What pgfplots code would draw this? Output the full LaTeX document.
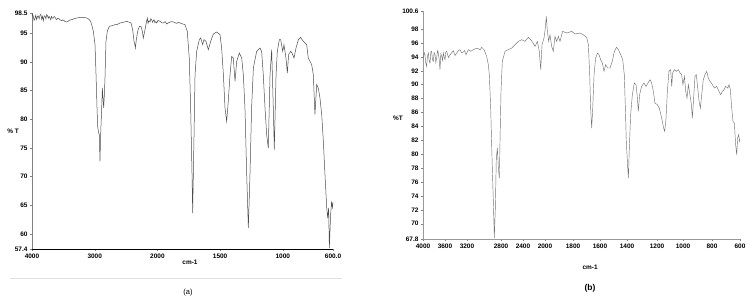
\documentclass[border=0pt]{standalone}
\usepackage{fontspec}
\setmainfont{Liberation Sans}
\usepackage{pgfplots}
\pgfplotsset{compat=1.18}
\usepackage{pgfplotstable}

\pgfplotstableread{
w t
4000 97.9
3990 98.3
3979 97.92
3967 97.2
3955 97.5
3940 98.1
3926 97.34
3913 97.9
3900 98.0
3886 97.5
3872 98.09
3858 98.3
3845 97.4
3832 97.9
3819 97.16
3805 98.0
3790 97.9
3778 97.5
3766 98.21
3752 98.0
3740 97.6
3726 97.9
3713 97.63
3700 97.3
3690 97.9
3675 97.6
3660 97.63
3648 97.9
3635 97.8
3620 97.5
3607 97.34
3590 97.6
3570 97.5
3550 97.3
3527 97.16
3510 97.3
3490 97.2
3470 97.0
3447 96.93
3430 97.0
3410 97.2
3390 97.3
3367 97.34
3350 97.4
3330 97.5
3310 97.55
3288 97.63
3270 97.65
3250 97.7
3230 97.75
3208 97.75
3190 97.72
3170 97.7
3150 97.68
3128 97.63
3105 97.5
3086 97.34
3065 97.0
3048 96.47
3022 95.31
2995 92.98
2979 87.76
2963 81.96
2953 78.76
2937 77.6
2926 77.31
2916 72.67
2905 77.31
2889 81.96
2878 85.44
2868 83.7
2857 81.96
2846 84.28
2836 87.18
2820 93.57
2799 95.31
2767 96.18
2720 96.3
2676 96.47
2640 96.5
2597 96.76
2540 96.9
2490 97.05
2450 96.9
2421 96.76
2395 95.6
2373 93.57
2360 93.0
2352 92.4
2336 93.86
2315 95.31
2288 96.18
2262 96.18
2240 95.3
2225 94.15
2198 95.6
2171 97.16
2160 97.6
2150 96.7
2135 97.2
2118 96.93
2105 97.5
2090 97.3
2078 96.9
2065 97.16
2052 97.3
2040 96.8
2025 97.0
2012 96.76
1995 97.2
1979 97.05
1965 96.8
1950 96.8
1938 97.0
1926 96.58
1912 96.8
1900 96.9
1887 97.0
1873 96.93
1860 96.8
1845 96.7
1832 96.9
1820 96.76
1800 96.6
1780 96.47
1762 95.31
1746 90.66
1735 81.96
1724 70.35
1719 63.67
1708 77.31
1700 87.76
1687 91.82
1666 93.86
1655 94.15
1639 92.98
1629 93.86
1613 93.57
1594 92.11
1575 93.57
1554 94.84
1528 95.19
1501 94.73
1488 92.40
1474 87.76
1461 81.96
1448 79.63
1435 83.12
1421 87.76
1408 90.95
1395 90.66
1381 86.6
1368 90.08
1347 91.53
1328 90.66
1315 87.76
1302 81.96
1288 70.35
1275 61.06
1262 70.35
1249 81.96
1235 88.92
1209 91.82
1182 92.40
1169 91.82
1156 87.76
1142 81.96
1129 77.31
1116 74.99
1102 87.76
1089 92.11
1076 81.96
1068 74.70
1054 87.76
1044 91.82
1028 93.86
1017 93.86
1001 91.82
991 92.98
975 90.66
964 88.05
954 91.25
938 91.82
927 91.53
911 90.66
895 92.40
876 93.86
858 94.26
837 93.57
810 92.98
797 90.66
770 89.5
757 87.76
744 80.79
730 86.02
717 85.44
704 83.7
690 80.79
677 76.15
664 70.35
650 64.54
642 62.8
635 64.54
629 57.57
619 63.38
611 65.7
605 64.6
600 65.5
}\spectrumA

\pgfplotstableread{
w t
4000 93.9
3995 93.84
3982 94.6
3970 94.3
3958 93.1
3945 92.64
3932 94.2
3919 94.55
3906 93.4
3894 93.12
3881 94.7
3869 94.8
3856 93.5
3844 93.36
3831 94.6
3818 94.3
3806 93.2
3793 93.84
3780 94.9
3768 94.55
3755 93.6
3743 92.16
3730 94.4
3717 94.08
3705 93.5
3692 94.55
3680 94.0
3667 93.6
3655 94.7
3642 94.8
3615 93.9
3591 94.3
3565 94.6
3541 94.89
3515 94.2
3490 94.55
3465 94.9
3440 95.04
3415 94.6
3389 94.7
3370 94.9
3349 94.3
3314 95.04
3275 94.8
3238 95.04
3200 95.2
3162 95.18
3135 95.0
3112 95.37
3076 95.04
3036 94.08
3011 92.88
2996 91.44
2975 86.64
2955 79.45
2935 73.21
2920 67.94
2905 72.25
2890 79.45
2874 80.89
2859 78.01
2844 76.57
2834 81.85
2819 89.04
2799 93.36
2758 94.8
2708 95.04
2657 95.27
2607 95.75
2557 96.23
2506 96.47
2456 96.23
2405 96.81
2355 96.33
2304 95.51
2269 96.23
2239 94.8
2218 92.16
2198 95.75
2168 96.71
2148 98.15
2133 99.83
2117 97.67
2097 96.23
2077 97.19
2052 95.51
2027 94.8
2001 96.95
1988 96.23
1975 96.95
1963 96.23
1943 97.67
1912 97.43
1874 97.67
1849 97.29
1811 97.43
1786 97.19
1761 96.81
1748 95.75
1738 91.44
1731 86.64
1723 83.76
1715 86.64
1705 91.44
1693 93.84
1678 94.55
1667 94.3
1655 93.6
1642 93.12
1630 91.92
1617 92.88
1602 92.4
1584 92.4
1567 93.36
1551 94.8
1536 95.37
1521 95.04
1503 94.3
1488 93.6
1476 91.44
1468 86.64
1461 81.85
1450 78.01
1445 76.57
1438 80.89
1428 85.68
1415 88.56
1400 90.24
1387 90.0
1377 88.08
1370 86.16
1360 88.56
1345 89.76
1327 90.24
1312 89.76
1297 90.24
1281 90.72
1269 90.24
1256 89.04
1244 87.36
1226 87.12
1211 86.64
1193 85.2
1178 83.76
1170 83.29
1160 85.2
1150 89.04
1138 91.92
1125 92.16
1117 89.76
1110 91.68
1097 92.16
1082 91.92
1067 92.16
1054 91.68
1042 91.44
1032 90.0
1021 91.2
1011 89.04
1001 88.08
991 90.0
979 88.56
968 87.12
961 85.2
951 88.08
941 91.2
931 91.44
920 89.52
910 87.6
900 86.64
890 88.56
878 90.72
865 91.44
852 91.92
840 90.96
827 90.48
809 90.0
794 89.52
777 89.76
759 89.04
746 88.56
734 89.04
721 89.28
709 89.76
693 89.52
683 90.0
673 89.28
663 86.64
653 84.72
643 84.48
633 81.37
625 79.93
618 82.33
610 82.81
603 81.85
600 82.1
}\spectrumB

\pgfplotsset{
  irx/.style={
    scale only axis,
    x coord trafo/.code={\pgfmathparse{##1>2000 ? 2000+(##1-2000)/2 : ##1}},
    x dir=reverse,
    xmin=600, xmax=4000,
    axis x line*=bottom, axis y line*=left,
    axis line style={-},
    tick align=outside,
    major tick length=2pt,
    tick style={gray, line width=0.4pt},
    ticklabel style={font=\fontsize{6.5}{7}\selectfont\bfseries},
    xticklabel style={yshift=1pt},
    yticklabel style={xshift=1pt},
  }
}

\begin{document}
\begin{tikzpicture}[x=1bp,y=1bp]
\path[use as bounding box] (0,0) rectangle (756,302);

% separator under (a)
\draw[gray!25, line width=0.5pt] (10,24) -- (342,24);

\begin{axis}[irx,
  at={(32bp,53bp)}, anchor=south west,
  width=301bp, height=236bp,
  ymin=57.4, ymax=98.5,
  ytick={57.4,60,65,70,75,80,85,90,95,98.5},
  yticklabels={57.4,60,65,70,75,80,85,90,95,98.5},
  xtick={4000,3000,2000,1500,1000,600},
  xticklabels={4000,3000,2000,1500,1000,600.0},
  x axis line style={black, line width=0.7pt},
  y axis line style={gray, line width=0.5pt},
  xlabel={cm-1},
  ylabel={\% T},
  every axis x label/.style={at={(axis description cs:0.525,-0.055)}, anchor=center, font=\fontsize{6.5}{7}\selectfont\bfseries},
  every axis y label/.style={at={(axis description cs:-0.063,0.5)}, anchor=center, font=\fontsize{6.5}{7}\selectfont\bfseries},
]
\addplot[black!70, line width=0.5pt] table[x=w, y=t] {\spectrumA};
\end{axis}

\node[font=\fontsize{7.5}{8}\selectfont] at (188,9) {(a)};

\begin{axis}[irx,
  at={(423bp,63bp)}, anchor=south west,
  width=317bp, height=228bp,
  ymin=67.8, ymax=100.6,
  ytick={67.8,70,72,74,76,78,80,82,84,86,88,90,92,94,96,98,100.6},
  yticklabels={67.8,70,72,74,76,78,80,82,84,86,88,90,92,94,96,98,100.6},
  xtick={4000,3667,3334,2819,2486,2153,1864,1660,1455,1228,1031,812,600},
  xticklabels={4000,3600,3200,2800,2400,2000,1800,1600,1400,1200,1000,800,600},
  axis line style={gray!80, line width=0.5pt},
  xlabel={cm-1},
  ylabel={\%T},
  every axis x label/.style={at={(axis description cs:0.527,-0.123)}, anchor=center, font=\fontsize{6.5}{7}\selectfont\bfseries},
  every axis y label/.style={at={(axis description cs:-0.079,0.53)}, anchor=center, font=\fontsize{6.5}{7}\selectfont\bfseries},
]
\addplot[black!55, line width=0.45pt] table[x=w, y=t] {\spectrumB};
\end{axis}

\node[font=\fontsize{8.5}{9}\selectfont\bfseries] at (590,14) {(b)};
\end{tikzpicture}
\end{document}
